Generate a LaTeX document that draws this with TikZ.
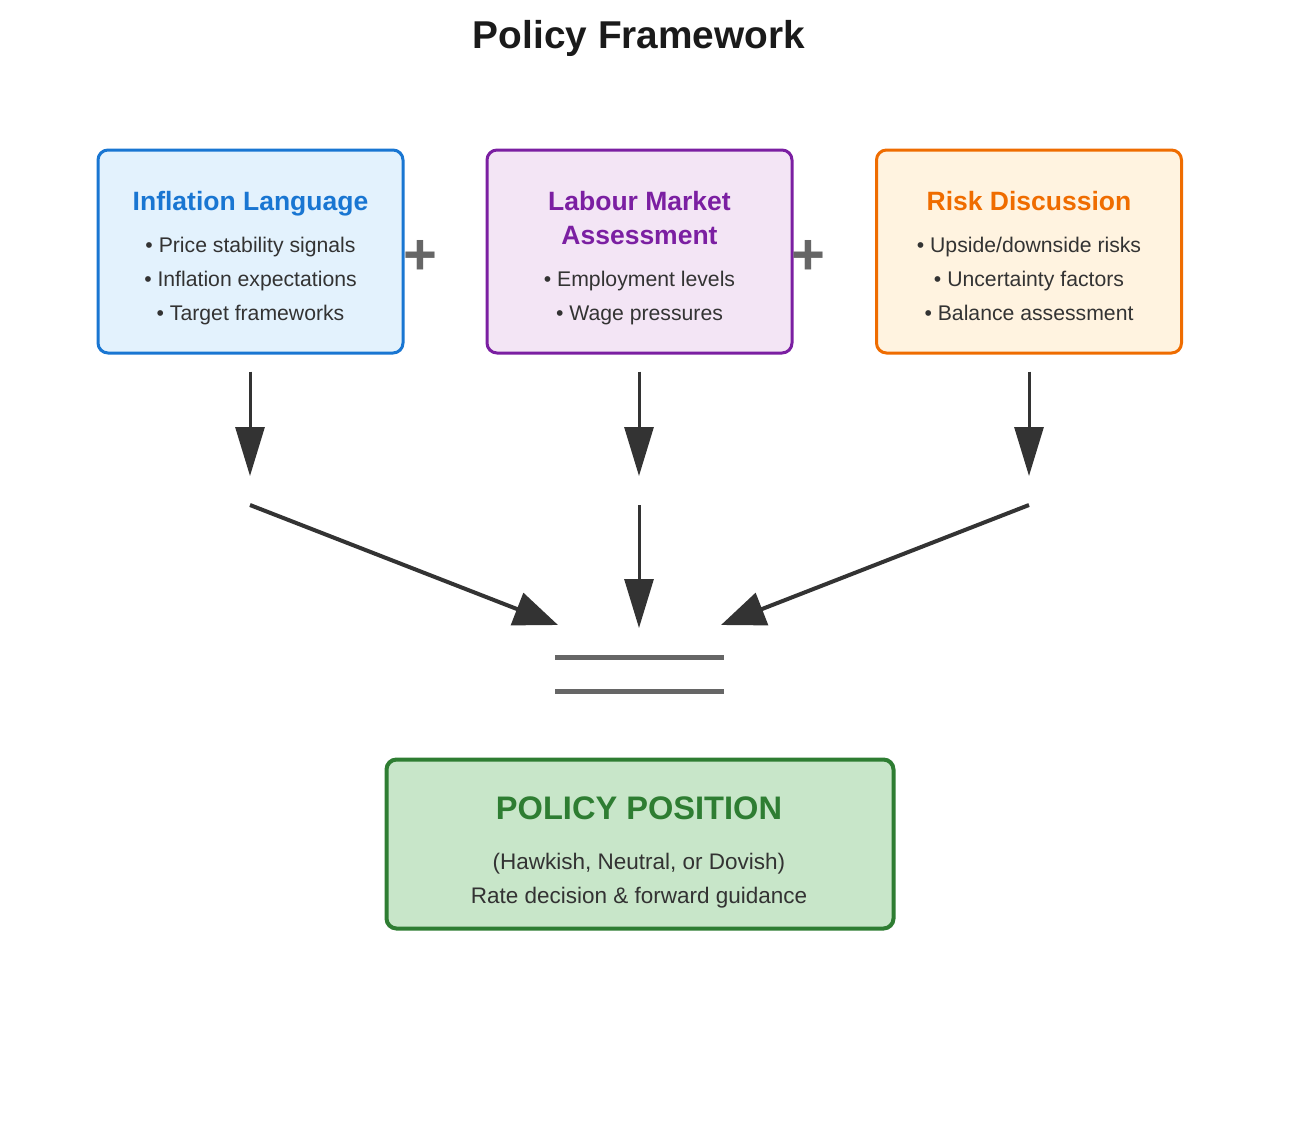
\documentclass[tikz,border=0pt]{standalone}
\usepackage{fontspec}
\setmainfont{Liberation Sans}
\usetikzlibrary{arrows.meta}
\definecolor{cblue}{HTML}{1976D2}\definecolor{fblue}{HTML}{E3F2FD}
\definecolor{cpurp}{HTML}{7B1FA2}\definecolor{fpurp}{HTML}{F3E5F5}
\definecolor{coran}{HTML}{EF6C00}\definecolor{foran}{HTML}{FFF3E0}
\definecolor{cgreen}{HTML}{2E7D32}\definecolor{fgreen}{HTML}{C8E6C9}
\definecolor{darkarrow}{HTML}{333333}
\definecolor{opgray}{HTML}{666666}
\definecolor{bodytext}{HTML}{333333}
\definecolor{titletext}{HTML}{1A1A1A}
\newcommand\myfs[1]{\fontsize{#1}{#1}\selectfont}
\tikzset{
  card/.style={rounded corners=10pt, line width=3pt, minimum width=305pt, minimum height=203pt, inner sep=0pt},
  headtxt/.style={anchor=base, font=\myfs{26.5}\bfseries, inner sep=0pt},
  itemtxt/.style={anchor=base, font=\myfs{21.2}, text=bodytext, inner sep=0pt},
  subtxt/.style={anchor=base, font=\myfs{22.5}, text=bodytext, inner sep=0pt},
  plussign/.style={anchor=base, font=\myfs{58}\bfseries, text=opgray, inner sep=0pt},
  varr/.style={draw=darkarrow, line width=3pt, -{Triangle[length=49pt,width=29pt]}},
  darr/.style={draw=darkarrow, line width=4pt, -{Triangle[length=44pt,width=34pt]}},
  eqline/.style={draw=opgray, line width=5pt},
}
\begin{document}
\begin{tikzpicture}[x=1pt,y=-1pt]
\useasboundingbox[fill=white] (0,0) rectangle (1306,1146);
\node[anchor=base, font=\myfs{38.8}\bfseries, text=titletext, inner sep=0pt] (title) at (639,48) {Policy Framework};

% boxes
\node[card, draw=cblue, fill=fblue] (box1) at (250.5,251.5) {};
\node[card, draw=cpurp, fill=fpurp] (box2) at (639.5,251.5) {};
\node[card, draw=coran, fill=foran] (box3) at (1029,251.5) {};

\node[headtxt, text=cblue] (h1) at (250.5,210) {Inflation Language};
\node[itemtxt] (i11) at (250.5,252) {• Price stability signals};
\node[itemtxt] (i12) at (250.5,286) {• Inflation expectations};
\node[itemtxt] (i13) at (250.5,320) {• Target frameworks};

\node[headtxt, text=cpurp] (h2a) at (639.5,210) {Labour Market};
\node[headtxt, text=cpurp] (h2b) at (639.5,244) {Assessment};
\node[itemtxt] (i21) at (639.5,286) {• Employment levels};
\node[itemtxt] (i22) at (639.5,320) {• Wage pressures};

\node[headtxt, text=coran] (h3) at (1029,210) {Risk Discussion};
\node[itemtxt] (i31) at (1029,252) {• Upside/downside risks};
\node[itemtxt] (i32) at (1029,286) {• Uncertainty factors};
\node[itemtxt] (i33) at (1029,320) {• Balance assessment};

\node[plussign] (p1) at (420,274) {+};
\node[plussign] (p2) at (808,274) {+};

% arrows
\coordinate (a1e) at (250,476);
\coordinate (a2e) at (639,476);
\coordinate (a3e) at (1029,476);
\draw[varr] ([yshift=-17pt]box1.south -| a1e) -- (a1e);
\draw[varr] ([yshift=-17pt]box2.south -| a2e) -- (a2e);
\draw[varr] ([yshift=-17pt]box3.south -| a3e) -- (a3e);

\coordinate (b1s) at (250,505);
\coordinate (b2s) at (639,505);
\coordinate (b3s) at (1029,505);
\coordinate (b1e) at (558,625);
\coordinate (b2e) at (639,628);
\coordinate (b3e) at (721,625);
\draw[darr] (b1s) -- (b1e);
\draw[varr] (b2s) -- (b2e);
\draw[darr] (b3s) -- (b3e);

% equals
\coordinate (e1l) at (555,657); \coordinate (e1r) at (724,657);
\coordinate (e2l) at (555,691); \coordinate (e2r) at (724,691);
\draw[eqline] (e1l) -- (e1r);
\draw[eqline] (e2l) -- (e2r);

% result
\node[rounded corners=10pt, line width=4pt, draw=cgreen, fill=fgreen, minimum width=507pt, minimum height=169pt, inner sep=0pt] (result) at (640,844) {};
\node[anchor=base, font=\myfs{32.6}\bfseries, text=cgreen, inner sep=0pt] (rt) at (639,819) {POLICY POSITION};
\node[subtxt] (r1) at (639,869) {(Hawkish, Neutral, or Dovish)};
\node[subtxt] (r2) at (639,903) {Rate decision \& forward guidance};
\end{tikzpicture}
\end{document}
